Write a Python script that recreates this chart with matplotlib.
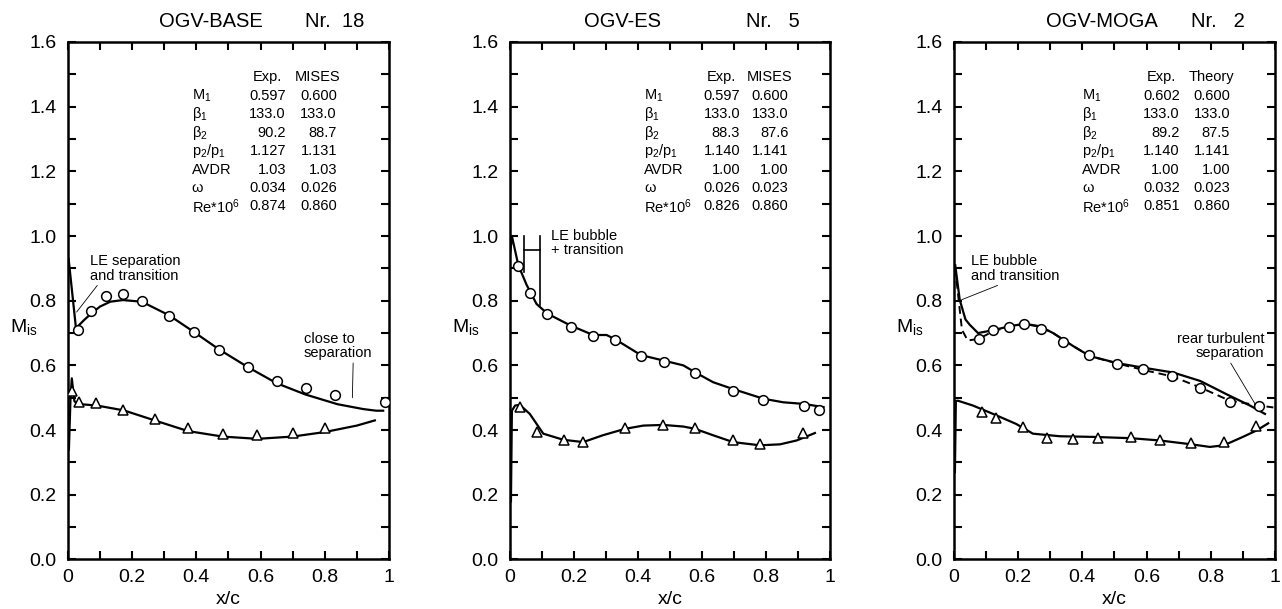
import matplotlib
matplotlib.use("Agg")
import matplotlib.pyplot as plt
from matplotlib.ticker import MultipleLocator, FixedLocator, FixedFormatter

plt.rcParams["font.family"] = ["Liberation Sans", "DejaVu Sans"]
plt.rcParams["mathtext.fontset"] = "custom"
plt.rcParams["mathtext.rm"] = "Liberation Sans"
plt.rcParams["mathtext.it"] = "Liberation Sans:italic"

# ---------------- OGV-BASE  Nr. 18 ----------------
base_ss_exp_x = [0.031, 0.072, 0.119, 0.171, 0.231, 0.314, 0.392, 0.470, 0.560, 0.650, 0.741, 0.833, 0.987]
base_ss_exp_y = [0.711, 0.767, 0.816, 0.821, 0.800, 0.753, 0.702, 0.648, 0.594, 0.553, 0.530, 0.509, 0.486]
base_ps_exp_x = [0.012, 0.035, 0.087, 0.172, 0.272, 0.374, 0.482, 0.590, 0.700, 0.802]
base_ps_exp_y = [0.520, 0.488, 0.483, 0.463, 0.433, 0.406, 0.389, 0.386, 0.391, 0.406]
base_ss_calc_x = [0.002, 0.025, 0.050, 0.072, 0.100, 0.132, 0.171, 0.230, 0.315, 0.390, 0.470,
                  0.560, 0.650, 0.740, 0.840, 0.920, 0.960, 0.982]
base_ss_calc_y = [0.930, 0.715, 0.740, 0.760, 0.782, 0.797, 0.802, 0.797, 0.755, 0.705, 0.650,
                  0.595, 0.545, 0.510, 0.480, 0.465, 0.460, 0.460]
base_ps_calc_x = [0.003, 0.008, 0.012, 0.020, 0.028, 0.090, 0.174, 0.270, 0.374, 0.482, 0.590,
                  0.700, 0.800, 0.900, 0.956]
base_ps_calc_y = [0.340, 0.500, 0.560, 0.490, 0.481, 0.476, 0.461, 0.430, 0.397, 0.380, 0.373,
                  0.380, 0.394, 0.414, 0.430]
base_table_exp = ["0.597", "133.0", "90.2", "1.127", "1.03", "0.034", "0.874"]
base_table_calc = ["0.600", "133.0", "88.7", "1.131", "1.03", "0.026", "0.860"]

# ---------------- OGV-ES  Nr. 5 ----------------
es_ss_exp_x = [0.026, 0.064, 0.117, 0.191, 0.260, 0.329, 0.409, 0.480, 0.578, 0.697, 0.792, 0.918, 0.967]
es_ss_exp_y = [0.906, 0.823, 0.759, 0.720, 0.691, 0.678, 0.629, 0.611, 0.576, 0.522, 0.494, 0.476, 0.461]
es_ps_exp_x = [0.031, 0.083, 0.170, 0.229, 0.360, 0.479, 0.578, 0.697, 0.781, 0.917]
es_ps_exp_y = [0.471, 0.394, 0.368, 0.364, 0.406, 0.417, 0.406, 0.368, 0.358, 0.391]
es_ss_calc_x = [0.001, 0.006, 0.026, 0.052, 0.083, 0.117, 0.190, 0.260, 0.302, 0.330, 0.409,
                0.480, 0.542, 0.578, 0.635, 0.697, 0.792, 0.854, 0.918, 0.980]
es_ss_calc_y = [0.950, 1.000, 0.910, 0.849, 0.790, 0.760, 0.723, 0.694, 0.694, 0.680, 0.632,
                0.615, 0.600, 0.579, 0.548, 0.527, 0.497, 0.486, 0.481, 0.471]
es_ps_calc_x = [0.003, 0.006, 0.016, 0.031, 0.062, 0.104, 0.167, 0.229, 0.290, 0.360, 0.417,
                0.479, 0.542, 0.578, 0.635, 0.697, 0.781, 0.844, 0.896, 0.953]
es_ps_calc_y = [0.180, 0.460, 0.476, 0.478, 0.450, 0.389, 0.370, 0.363, 0.384, 0.404, 0.414,
                0.416, 0.411, 0.404, 0.384, 0.363, 0.353, 0.356, 0.368, 0.391]
es_table_exp = ["0.597", "133.0", "88.3", "1.140", "1.00", "0.026", "0.826"]
es_table_calc = ["0.600", "133.0", "87.6", "1.141", "1.00", "0.023", "0.860"]

# ---------------- OGV-MOGA  Nr. 2 ----------------
moga_ss_exp_x = [0.077, 0.123, 0.173, 0.219, 0.270, 0.340, 0.421, 0.509, 0.590, 0.680, 0.767, 0.859, 0.951]
moga_ss_exp_y = [0.683, 0.708, 0.719, 0.728, 0.713, 0.673, 0.632, 0.604, 0.588, 0.568, 0.529, 0.488, 0.474]
moga_ps_exp_x = [0.086, 0.131, 0.214, 0.291, 0.372, 0.450, 0.551, 0.641, 0.740, 0.841, 0.940]
moga_ps_exp_y = [0.455, 0.438, 0.411, 0.375, 0.373, 0.375, 0.379, 0.369, 0.359, 0.363, 0.414]
moga_ss_calc_x = [0.004, 0.018, 0.036, 0.049, 0.075, 0.122, 0.174, 0.219, 0.267, 0.309, 0.371,
                  0.423, 0.509, 0.590, 0.683, 0.767, 0.849, 0.922, 0.969]
moga_ss_calc_y = [0.910, 0.803, 0.742, 0.726, 0.700, 0.709, 0.721, 0.729, 0.721, 0.700, 0.660,
                  0.629, 0.607, 0.593, 0.578, 0.552, 0.511, 0.476, 0.450]
moga_ss_dash_x = [0.004, 0.015, 0.025, 0.043, 0.077, 0.123, 0.174, 0.219, 0.267, 0.309, 0.371,
                  0.423, 0.509, 0.590, 0.680, 0.767, 0.859, 0.951, 0.995]
moga_ss_dash_y = [0.900, 0.800, 0.710, 0.677, 0.682, 0.706, 0.720, 0.728, 0.720, 0.700, 0.660,
                  0.629, 0.606, 0.586, 0.566, 0.532, 0.491, 0.476, 0.470]
moga_ps_calc_x = [0.003, 0.006, 0.012, 0.059, 0.122, 0.194, 0.246, 0.330, 0.434, 0.551, 0.641,
                  0.740, 0.797, 0.841, 0.900, 0.943, 0.979]
moga_ps_calc_y = [0.270, 0.490, 0.491, 0.476, 0.450, 0.419, 0.389, 0.381, 0.379, 0.375, 0.368,
                  0.356, 0.348, 0.353, 0.379, 0.399, 0.421]
moga_table_exp = ["0.602", "133.0", "89.2", "1.140", "1.00", "0.032", "0.851"]
moga_table_calc = ["0.600", "133.0", "87.5", "1.141", "1.00", "0.023", "0.860"]

table_rows = [r"M$\mathregular{_1}$", r"β$\mathregular{_1}$", r"β$\mathregular{_2}$",
              r"p$\mathregular{_2}$/p$\mathregular{_1}$", "AVDR", "ω", r"Re*10$\mathregular{^6}$"]

x_ticks = [0, 0.2, 0.4, 0.6, 0.8, 1.0]
x_tick_labels = ["0", "0.2", "0.4", "0.6", "0.8", "1"]
y_ticks = [0.0, 0.2, 0.4, 0.6, 0.8, 1.0, 1.2, 1.4, 1.6]
y_tick_labels = ["0.0", "0.2", "0.4", "0.6", "0.8", "1.0", "1.2", "1.4", "1.6"]

# leading-edge bubble bracket on OGV-ES (data coords)
es_bracket_x = [0.045, 0.093]
es_bracket_bottom = [0.888, 0.787]
es_bracket_top = 0.999
es_bracket_bar = 0.957

FS = 14


def style_axes(ax):
    """坐标轴样式：刻度朝内，四边都有"""
    ax.set_xlim(0, 1)
    ax.set_ylim(0, 1.6)
    ax.xaxis.set_major_locator(FixedLocator(x_ticks))
    ax.xaxis.set_major_formatter(FixedFormatter(x_tick_labels))
    ax.yaxis.set_major_locator(FixedLocator(y_ticks))
    ax.yaxis.set_major_formatter(FixedFormatter(y_tick_labels))
    ax.xaxis.set_minor_locator(MultipleLocator(0.1))
    ax.yaxis.set_minor_locator(MultipleLocator(0.1))
    ax.tick_params(which="both", direction="in", top=True, right=True,
                   length=6, width=1.5, labelsize=FS)
    ax.tick_params(axis="x", pad=7)
    ax.tick_params(axis="y", pad=8)
    for sp in ax.spines.values():
        sp.set_linewidth(1.8)
    ax.text(0.5, -0.078, "x/c", transform=ax.transAxes, ha="center", va="center", fontsize=FS)
    ax.text(-0.138, 0.449, r"M$\mathregular{_{is}}$", transform=ax.transAxes,
            ha="center", va="center", fontsize=FS)


def draw_title(ax, name, name_x, nr, nr_x):
    ax.text(name_x, 1.0387, name, transform=ax.transAxes, ha="center", va="center", fontsize=14.5)
    ax.text(nr_x, 1.0387, nr, transform=ax.transAxes, ha="left", va="center", fontsize=14.5)


def draw_table(ax, x_lab, x_exp, x_calc, calc_name, exp_vals, calc_vals):
    """右上角的参数表"""
    y0 = 0.932
    dy = 0.0357
    kw = dict(transform=ax.transAxes, fontsize=10.5, va="center")
    ax.text(x_exp, y0, "Exp.", ha="right", **kw)
    ax.text(x_calc + 0.012, y0, calc_name, ha="right", **kw)
    for i, lab in enumerate(table_rows):
        yy = y0 - dy * (i + 1)
        ax.text(x_lab, yy, lab, ha="left", **kw)
        ax.text(x_exp + 0.012, yy, exp_vals[i], ha="right", **kw)
        ax.text(x_calc, yy, calc_vals[i], ha="right", **kw)


def draw_data(ax, ssx, ssy, psx, psy, scx, scy, pcx, pcy):
    ax.plot(scx, scy, color="black", lw=1.6, solid_joinstyle="round")
    ax.plot(pcx, pcy, color="black", lw=1.6, solid_joinstyle="round")
    ax.plot(ssx, ssy, "o", ms=7, mfc="white", mec="black", mew=1.1, zorder=5)
    ax.plot(psx, psy, "^", ms=7.5, mfc="white", mec="black", mew=1.1, zorder=5)


def main():
    fig = plt.figure(figsize=(12.82, 6.09), dpi=100)
    bottom, height = 0.0813, 0.8498
    ax1 = fig.add_axes([0.053, bottom, 0.2504, height])
    ax2 = fig.add_axes([0.3978, bottom, 0.2496, height])
    ax3 = fig.add_axes([0.7441, bottom, 0.2504, height])

    note = dict(fontsize=10.5, va="center", linespacing=1.05)
    leader = dict(arrowstyle="-", lw=0.6, color="black", shrinkA=0, shrinkB=0)

    # OGV-BASE
    draw_data(ax1, base_ss_exp_x, base_ss_exp_y, base_ps_exp_x, base_ps_exp_y,
              base_ss_calc_x, base_ss_calc_y, base_ps_calc_x, base_ps_calc_y)
    style_axes(ax1)
    draw_title(ax1, "OGV-BASE", 0.445, "Nr.  18", 0.738)
    draw_table(ax1, 0.386, 0.667, 0.838, "MISES", base_table_exp, base_table_calc)
    ax1.annotate("LE separation\nand transition", xy=(0.027, 0.765), xytext=(0.07, 0.90),
                 ha="left", arrowprops=dict(relpos=(0.1, 0.0), **leader), **note)
    ax1.annotate("close to\nseparation", xy=(0.886, 0.50), xytext=(0.735, 0.66),
                 ha="left", arrowprops=dict(relpos=(0.72, 0.0), **leader), **note)

    # OGV-ES
    draw_data(ax2, es_ss_exp_x, es_ss_exp_y, es_ps_exp_x, es_ps_exp_y,
              es_ss_calc_x, es_ss_calc_y, es_ps_calc_x, es_ps_calc_y)
    style_axes(ax2)
    draw_title(ax2, "OGV-ES", 0.353, "Nr.   5", 0.7375)
    draw_table(ax2, 0.419, 0.707, 0.870, "MISES", es_table_exp, es_table_calc)
    for bx, bb in zip(es_bracket_x, es_bracket_bottom):
        ax2.plot([bx, bx], [bb, es_bracket_top], color="black", lw=1.2)
    ax2.plot(es_bracket_x, [es_bracket_bar, es_bracket_bar], color="black", lw=1.2)
    ax2.text(0.127, 0.978, "LE bubble\n+ transition", ha="left", **note)

    # OGV-MOGA
    ax3.plot(moga_ss_dash_x, moga_ss_dash_y, color="black", lw=1.4, dashes=(4, 2.5))
    draw_data(ax3, moga_ss_exp_x, moga_ss_exp_y, moga_ps_exp_x, moga_ps_exp_y,
              moga_ss_calc_x, moga_ss_calc_y, moga_ps_calc_x, moga_ps_calc_y)
    style_axes(ax3)
    draw_title(ax3, "OGV-MOGA", 0.46, "Nr.   2", 0.74)
    draw_table(ax3, 0.400, 0.692, 0.860, "Theory", moga_table_exp, moga_table_calc)
    ax3.annotate("LE bubble\nand transition", xy=(0.024, 0.803), xytext=(0.053, 0.90),
                 ha="left", arrowprops=dict(relpos=(0.38, 0.0), **leader), **note)
    ax3.annotate("rear turbulent\nseparation", xy=(0.938, 0.481), xytext=(0.966, 0.66),
                 ha="right", arrowprops=dict(relpos=(0.6, 0.0), **leader), **note)

    fig.savefig("out.png", dpi=100)


if __name__ == "__main__":
    main()
